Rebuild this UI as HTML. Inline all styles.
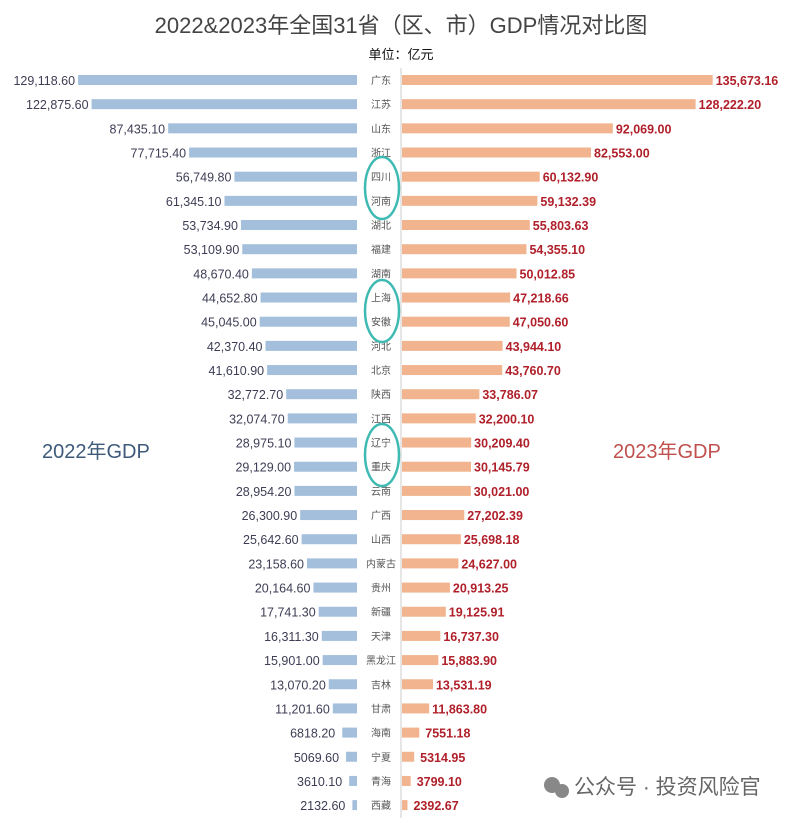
<!DOCTYPE html><html><head><meta charset="utf-8"><style>
body{margin:0;background:#fff;width:803px;height:818px;overflow:hidden;font-family:"Liberation Sans","Noto Sans CJK SC",sans-serif}
</style></head><body>
<svg width="803" height="818" xmlns="http://www.w3.org/2000/svg" font-family="Liberation Sans, Noto Sans CJK SC, sans-serif">
<text x="401" y="33" text-anchor="middle" font-size="22" fill="#444">2022&amp;2023年全国31省（区、市）GDP情况对比图</text>
<text x="401" y="59" text-anchor="middle" font-size="13" fill="#111">单位：亿元</text>
<line x1="401" y1="68" x2="401" y2="818" stroke="#ccc" stroke-width="1"/>
<g id="rows"></g>
<text x="42" y="458" font-size="20" fill="#3e5a7a">2022年GDP</text>
<text x="613" y="458" font-size="20" fill="#c0504d">2023年GDP</text>
<g fill="none" stroke="#3fbab2" stroke-width="2.5">
<ellipse cx="382" cy="188" rx="17" ry="31"/>
<ellipse cx="382" cy="311" rx="17" ry="31"/>
<ellipse cx="382" cy="455" rx="17" ry="31"/>
</g>
<g fill="#888"><circle cx="552" cy="785" r="8"/><circle cx="562" cy="791" r="7"/></g>
<text x="574" y="794" font-size="21" fill="#666">公众号 · 投资风险官</text>
</svg>
<script>
var d=[["广东",129118.6,135673.16],["江苏",122875.6,128222.2],["山东",87435.1,92069.0],["浙江",77715.4,82553.0],["四川",56749.8,60132.9],["河南",61345.1,59132.39],["湖北",53734.9,55803.63],["福建",53109.9,54355.1],["湖南",48670.4,50012.85],["上海",44652.8,47218.66],["安徽",45045.0,47050.6],["河北",42370.4,43944.1],["北京",41610.9,43760.7],["陕西",32772.7,33786.07],["江西",32074.7,32200.1],["辽宁",28975.1,30209.4],["重庆",29129.0,30145.79],["云南",28954.2,30021.0],["广西",26300.9,27202.39],["山西",25642.6,25698.18],["内蒙古",23158.6,24627.0],["贵州",20164.6,20913.25],["新疆",17741.3,19125.91],["天津",16311.3,16737.3],["黑龙江",15901.0,15883.9],["吉林",13070.2,13531.19],["甘肃",11201.6,11863.8],["海南",6818.2,7551.18],["宁夏",5069.6,5314.95],["青海",3610.1,3799.1],["西藏",2132.6,2392.67]];
function f(v,c){return v>=10000?v.toLocaleString('en-US',{minimumFractionDigits:2,maximumFractionDigits:2}):v.toFixed(2)}
var s='';d.forEach(function(r,i){var y=80+i*24.17;var wl=Math.max(4,r[1]*0.00216),wr=Math.max(5,r[2]*0.00229);var xl=357-wl;
s+='<rect x="'+xl+'" y="'+(y-5)+'" width="'+wl+'" height="10" fill="#a3bfdc"/>';
s+='<rect x="402" y="'+(y-5)+'" width="'+wr+'" height="10" fill="#f1b48f"/>';
s+='<text x="'+(xl-(r[1]<10000?7:3))+'" y="'+(y+5)+'" text-anchor="end" font-size="12.5" fill="#3d3d55">'+f(r[1])+'</text>';
s+='<text x="'+(402+wr+(r[2]<10000?6:3))+'" y="'+(y+5)+'" font-size="12.5" font-weight="bold" fill="#b0202a">'+f(r[2])+'</text>';
s+='<text x="381" y="'+(y+4)+'" text-anchor="middle" font-size="10" fill="#555">'+r[0]+'</text>';});
document.getElementById('rows').innerHTML=s;
</script>
</body></html>
